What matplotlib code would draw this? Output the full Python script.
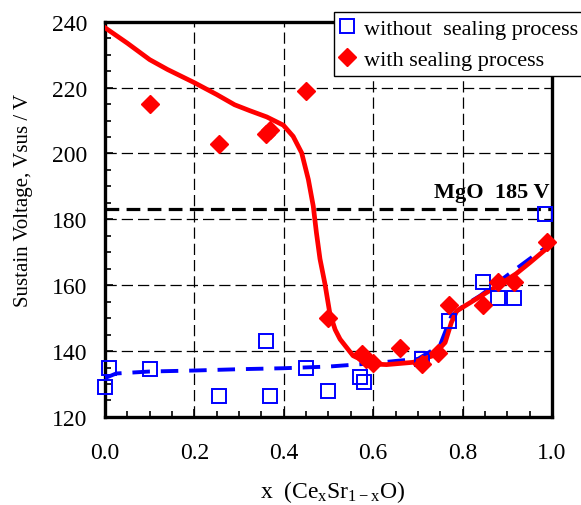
import matplotlib
matplotlib.use("Agg")
import matplotlib.pyplot as plt
from matplotlib.ticker import MultipleLocator

plt.rcParams['font.family'] = ['Liberation Serif', 'DejaVu Serif']
plt.rcParams['mathtext.fontset'] = 'custom'
plt.rcParams['mathtext.rm'] = 'Liberation Serif'
plt.rcParams['mathtext.it'] = 'Liberation Serif:italic'

# measured sustain voltages
x_without = [0.00, 0.01, 0.10, 0.255, 0.36, 0.37, 0.45, 0.50, 0.57, 0.58,
             0.71, 0.77, 0.845, 0.88, 0.915, 0.985]
v_without = [129, 135, 134.5, 126.5, 143, 126.5, 135, 128, 132, 130.5,
             137.5, 149, 161, 156, 156, 181.5]

x_with = [0.10, 0.255, 0.36, 0.37, 0.45, 0.50, 0.575, 0.585, 0.60, 0.66,
          0.71, 0.745, 0.77, 0.845, 0.88, 0.915, 0.99]
v_with = [215, 203, 206, 207, 219, 150, 139, 137.5, 136.5, 141,
          136, 139.5, 154, 154, 161, 161, 173]

# trend lines
x_fit_with = [0.0, 0.05, 0.10, 0.14, 0.20, 0.25, 0.29, 0.324, 0.362, 0.399,
              0.421, 0.44, 0.455, 0.466, 0.473, 0.481, 0.492, 0.503, 0.515,
              0.526, 0.555, 0.593, 0.63, 0.69, 0.734, 0.761, 0.775, 0.787,
              0.817, 0.854, 0.884, 0.92, 0.951, 1.0]
v_fit_with = [238.2, 233.5, 228.5, 225.5, 221.5, 217.9, 214.8, 213.0, 211.1,
              208.6, 205.2, 200.2, 192.1, 184, 176, 168, 160.5, 151.5, 146.5,
              143.6, 138.6, 136.1, 135.9, 136.6, 138.6, 142.6, 148.7, 152.2,
              154.7, 157.8, 160.3, 163.5, 166.9, 172.5]

x_fit_without = [0.0, 0.025, 0.10, 0.20, 0.30, 0.40, 0.50, 0.60, 0.65, 0.70,
                 0.749, 0.775, 0.80, 0.839, 0.90, 0.95, 1.0]
v_fit_without = [131.8, 133.2, 133.8, 134.1, 134.5, 134.8, 135.3, 136.3, 137,
                 137.6, 141.6, 150.7, 153.5, 156.8, 163, 168, 172.8]

mgo_level = 183

fig = plt.figure(figsize=(5.81, 5.06), dpi=100)
ax = fig.add_axes([0.1807, 0.174, 0.7693, 0.781])

ax.plot(x_fit_without, v_fit_without, color='#0000ff', lw=2.8,
        dashes=(4.5, 2.8), zorder=3)
ax.plot(x_fit_with, v_fit_with, color='#ff0000', lw=3.4, zorder=4,
        solid_joinstyle='round')
ax.axhline(mgo_level, color='black', lw=2.3, dashes=(4.3, 2.3), zorder=2)

ax.plot(x_without, v_without, ls='none', marker='s', ms=9.5, mfc='none',
        mec='#0000ff', mew=1.4, label='without  sealing process', zorder=5,
        clip_on=False)
ax.plot(x_with, v_with, ls='none', marker='D', ms=9.2, mfc='#ff0000',
        mec='#ff0000', label='with sealing process', zorder=6, clip_on=False)

ax.text(0.995, 186.8, 'MgO  185 V', ha='right', va='baseline',
        fontsize=16, fontweight='bold')

ax.set_xlim(0, 1.0)
ax.set_ylim(120, 240)
ax.xaxis.set_major_locator(MultipleLocator(0.2))
ax.xaxis.set_minor_locator(MultipleLocator(0.05))
ax.yaxis.set_major_locator(MultipleLocator(20))
ax.yaxis.set_minor_locator(MultipleLocator(5))
ax.xaxis.set_major_formatter(plt.FuncFormatter(lambda v, p: f'{v:.1f}'))

ax.grid(True, which='major', color='black', lw=0.9, dashes=(9, 4))
ax.tick_params(which='both', direction='in', labelsize=17, width=1.2)
ax.tick_params(which='major', length=6)
ax.tick_params(which='minor', length=4)
ax.tick_params(axis='x', pad=18)
ax.tick_params(axis='y', pad=13)
for s in ax.spines.values():
    s.set_linewidth(2.4)

ax.set_xlabel('x  (Ce$_\\mathrm{x}$Sr$_\\mathrm{1-x}$O)', fontsize=17)
ax.xaxis.set_label_coords(0.51, -0.155)
ax.set_ylabel('Sustain Voltage, Vsus / V', fontsize=15)
ax.yaxis.set_label_coords(-0.16, 0.55)

leg = fig.legend(loc='upper left', bbox_to_anchor=(334 / 581, 1 - 13 / 506),
                 fontsize=16, frameon=True, fancybox=False, framealpha=1,
                 edgecolor='black', handlelength=0.6, handletextpad=0.45,
                 labelspacing=0.45, borderpad=0.3, borderaxespad=0)
leg.get_frame().set_linewidth(1.0)

fig.savefig('out.png', dpi=100)
